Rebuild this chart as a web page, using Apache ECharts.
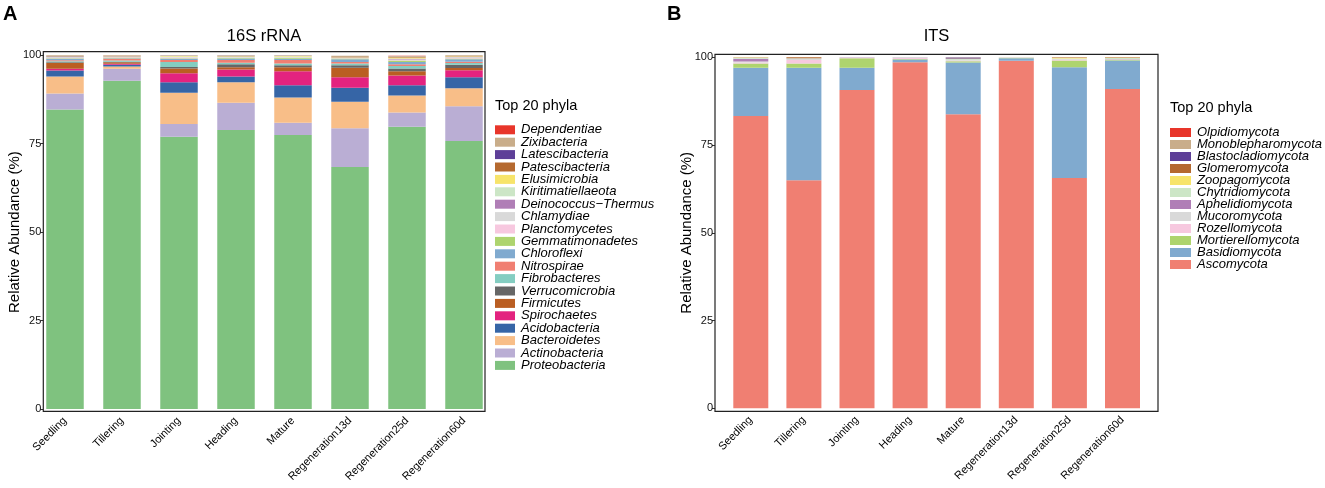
<!DOCTYPE html>
<html>
<head>
<meta charset="utf-8">
<script src="https://cdn.jsdelivr.net/npm/echarts@6/dist/echarts.min.js"></script>
<style>
html,body{margin:0;padding:0;background:#fff;}
#chart{width:1325px;height:488px;}
</style>
</head>
<body>
<div id="chart"></div>
<script>
// ---------- categories & ticks ----------
const categories = ['Seedling','Tillering','Jointing','Heading','Mature','Regeneration13d','Regeneration25d','Regeneration60d'];
const yTicks = [0, 25, 50, 75, 100];

// ---------- 16S rRNA (bottom -> top of stack) ----------
const proteobacteria     = [84.7, 92.8, 77.0, 78.9, 77.5, 68.4, 79.8, 75.8];
const actinobacteria     = [4.5, 3.4, 3.6, 7.7, 3.4, 11.0, 4.0, 9.8];
const bacteroidetes      = [4.8, 0.6, 8.8, 5.8, 7.2, 7.5, 4.8, 5.1];
const acidobacteria      = [1.7, 0.5, 3.0, 1.6, 3.4, 3.9, 2.9, 3.1];
const spirochaetes       = [0.5, 0.3, 2.5, 2.0, 4.0, 3.0, 2.8, 2.0];
const firmicutes         = [1.6, 0.4, 1.4, 0.6, 1.1, 2.7, 1.2, 0.6];
const verrucomicrobia    = [0.2, 0.2, 0.4, 0.9, 0.6, 0.7, 0.8, 0.9];
const fibrobacteres      = [0.3, 0.3, 1.4, 0.4, 0.5, 0.5, 0.7, 0.5];
const nitrospirae        = [0.3, 0.5, 0.6, 0.8, 1.0, 0.4, 0.5, 0.4];
const chloroflexi        = [0.4, 0.2, 0.3, 0.4, 0.3, 0.8, 0.6, 0.7];
const gemmatimonadetes   = [0.2, 0.2, 0.2, 0.2, 0.3, 0.2, 0.4, 0.2];
const planctomycetes     = [0.1, 0.1, 0.2, 0.1, 0.1, 0.1, 0.2, 0.2];
const chlamydiae         = [0.1, 0.1, 0.1, 0.1, 0.1, 0.1, 0.1, 0.1];
const deinococcus        = [0.05, 0.05, 0.05, 0.05, 0.05, 0.05, 0.2, 0.05];
const kiritimatiellaeota = [0.1, 0.05, 0.1, 0.1, 0.1, 0.05, 0.1, 0.1];
const elusimicrobia      = [0.05, 0.05, 0.2, 0.1, 0.2, 0.05, 0.3, 0.1];
const patescibacteria    = [0.05, 0.1, 0.05, 0.05, 0.05, 0.05, 0.1, 0.05];
const latescibacteria    = [0.05, 0.05, 0.05, 0.05, 0.05, 0.05, 0.1, 0.05];
const zixibacteria       = [0.3, 0.1, 0.1, 0.2, 0.1, 0.3, 0.2, 0.3];
const dependentiae       = [0.05, 0.1, 0.05, 0.05, 0.05, 0.05, 0.05, 0.05];

const bacteriaNames = ['Proteobacteria','Actinobacteria','Bacteroidetes','Acidobacteria','Spirochaetes','Firmicutes','Verrucomicrobia','Fibrobacteres','Nitrospirae','Chloroflexi','Gemmatimonadetes','Planctomycetes','Chlamydiae','Deinococcus\u2212Thermus','Kiritimatiellaeota','Elusimicrobia','Patescibacteria','Latescibacteria','Zixibacteria','Dependentiae'];
const bacteriaValues = [proteobacteria, actinobacteria, bacteroidetes, acidobacteria, spirochaetes, firmicutes, verrucomicrobia, fibrobacteres, nitrospirae, chloroflexi, gemmatimonadetes, planctomycetes, chlamydiae, deinococcus, kiritimatiellaeota, elusimicrobia, patescibacteria, latescibacteria, zixibacteria, dependentiae];

// ---------- ITS (bottom -> top of stack) ----------
const ascomycota        = [83.3, 65.0, 90.7, 98.6, 83.8, 99.0, 65.6, 91.0];
const basidiomycota     = [13.7, 32.0, 6.3, 0.8, 14.7, 0.7, 31.6, 8.1];
const mortierellomycota = [1.2, 1.2, 2.7, 0.1, 0.4, 0.2, 1.9, 0.2];
const rozellomycota     = [0.3, 1.0, 0.2, 0.3, 0.1, 0.05, 0.2, 0.05];
const mucoromycota      = [0.3, 0.3, 0.05, 0.1, 0.2, 0.05, 0.2, 0.1];
const aphelidiomycota   = [0.8, 0.1, 0.05, 0.05, 0.1, 0.0, 0.05, 0.05];
const chytridiomycota   = [0.3, 0.1, 0.05, 0.05, 0.2, 0.05, 0.1, 0.3];
const zoopagomycota     = [0.05, 0.05, 0.05, 0.0, 0.1, 0.0, 0.2, 0.1];
const glomeromycota     = [0.05, 0.3, 0.05, 0.0, 0.05, 0.0, 0.3, 0.1];
const blastocladiomycota= [0.0, 0.0, 0.0, 0.0, 0.3, 0.0, 0.05, 0.05];
const monoblepharomycota= [0.05, 0.05, 0.0, 0.0, 0.05, 0.0, 0.05, 0.05];
const olpidiomycota     = [0.0, 0.0, 0.0, 0.0, 0.05, 0.0, 0.05, 0.4];

const fungiNames = ['Ascomycota','Basidiomycota','Mortierellomycota','Rozellomycota','Mucoromycota','Aphelidiomycota','Chytridiomycota','Zoopagomycota','Glomeromycota','Blastocladiomycota','Monoblepharomycota','Olpidiomycota'];
const fungiValues = [ascomycota, basidiomycota, mortierellomycota, rozellomycota, mucoromycota, aphelidiomycota, chytridiomycota, zoopagomycota, glomeromycota, blastocladiomycota, monoblepharomycota, olpidiomycota];

// palette, listed from top of legend downward
const paletteTopDown = ['#E8352A','#C9AD8A','#5E3F98','#B5692F','#F7E46A','#CCE6C6','#B07EB6','#D9D9D9','#F7C8DF','#AED46E','#80AACF','#F07F72','#84CDC1','#666666','#BA5E22','#E3237F','#3665A6','#F8BE88','#BAAED4','#7FC27F'];

const FONT = '"Liberation Sans", Arial, sans-serif';

const chart = echarts.init(document.getElementById('chart'), null, {renderer: 'canvas'});

function colorFor(names, i) {
  return paletteTopDown[names.length - 1 - i];
}

const series = [];
bacteriaNames.forEach((n, i) => {
  series.push({
    name: n, type: 'bar', stack: 'bac', xAxisIndex: 0, yAxisIndex: 0,
    data: bacteriaValues[i], barWidth: 37.5,
    itemStyle: {color: colorFor(bacteriaNames, i)},
    emphasis: {disabled: true}
  });
});
fungiNames.forEach((n, i) => {
  series.push({
    name: n, type: 'bar', stack: 'fun', xAxisIndex: 1, yAxisIndex: 1,
    data: fungiValues[i], barWidth: 35,
    itemStyle: {color: colorFor(fungiNames, i)},
    emphasis: {disabled: true}
  });
});

function yAxisCfg(gridIndex, offset) {
  return {
    type: 'value', gridIndex: gridIndex, min: 0, max: 100, interval: 25,
    offset: offset,
    name: 'Relative Abundance (%)', nameLocation: 'middle', nameGap: 20.5,
    nameMoveOverlap: false,
    nameTextStyle: {fontFamily: FONT, fontSize: 15, color: '#000'},
    axisLine: {show: false},
    axisTick: {show: true, length: 3, lineStyle: {color: '#333', width: 1}},
    axisLabel: {fontFamily: FONT, fontSize: 11, color: '#111', margin: 2},
    splitLine: {show: false}
  };
}
function xAxisCfg(gridIndex) {
  return {
    type: 'category', gridIndex: gridIndex, data: categories,
    axisLine: {show: false}, axisTick: {show: false},
    axisLabel: {fontFamily: FONT, fontSize: 11, color: '#000', rotate: 45, margin: 10, interval: 0}
  };
}

function legendCfg(names, left, top, itemWidth, gap) {
  return {
    data: names.slice().reverse(),
    orient: 'vertical', left: left, top: top,
    itemWidth: itemWidth, itemHeight: 9, itemGap: gap,
    icon: 'rect', selectedMode: false, padding: 0,
    textStyle: {fontFamily: FONT, fontSize: 13, fontStyle: 'italic', color: '#000', lineHeight: 13, padding: [0,0,0,1]}
  };
}

const option = {
  animation: false,
  backgroundColor: '#fff',
  grid: [
    {left: 36.5, width: 456, top: 55.3, height: 353.7},
    {left: 724.25, width: 424.8, top: 57.3, height: 351}
  ],
  xAxis: [xAxisCfg(0), xAxisCfg(1)],
  yAxis: [yAxisCfg(0, -6.8), yAxisCfg(1, 9.25)],
  legend: [
    legendCfg(bacteriaNames, 495, 123.3, 20, -0.6),
    legendCfg(fungiNames, 1170, 126, 21, -1)
  ],
  series: series,
  graphic: [
    {type: 'rect', z: 100, shape: {x: 43.3, y: 51.7, width: 441.7, height: 359.6},
     style: {fill: null, stroke: '#222', lineWidth: 1.2}},
    {type: 'rect', z: 100, shape: {x: 715, y: 54.3, width: 443, height: 357},
     style: {fill: null, stroke: '#222', lineWidth: 1.2}},
    {type: 'text', z: 100, x: 264, y: 36.5,
     style: {text: '16S rRNA', font: '16.5px ' + FONT, fill: '#000', textAlign: 'center', textVerticalAlign: 'middle'}},
    {type: 'text', z: 100, x: 936.5, y: 36.5,
     style: {text: 'ITS', font: '16.5px ' + FONT, fill: '#000', textAlign: 'center', textVerticalAlign: 'middle'}},
    {type: 'text', z: 100, x: 3, y: 14,
     style: {text: 'A', font: 'bold 20px ' + FONT, fill: '#000', textAlign: 'left', textVerticalAlign: 'middle'}},
    {type: 'text', z: 100, x: 667, y: 14,
     style: {text: 'B', font: 'bold 20px ' + FONT, fill: '#000', textAlign: 'left', textVerticalAlign: 'middle'}},
    {type: 'text', z: 100, x: 495, y: 106,
     style: {text: 'Top 20 phyla', font: '14.5px ' + FONT, fill: '#000', textAlign: 'left', textVerticalAlign: 'middle'}},
    {type: 'text', z: 100, x: 1170, y: 107.5,
     style: {text: 'Top 20 phyla', font: '14.5px ' + FONT, fill: '#000', textAlign: 'left', textVerticalAlign: 'middle'}}
  ]
};
chart.setOption(option);
</script>
</body>
</html>
